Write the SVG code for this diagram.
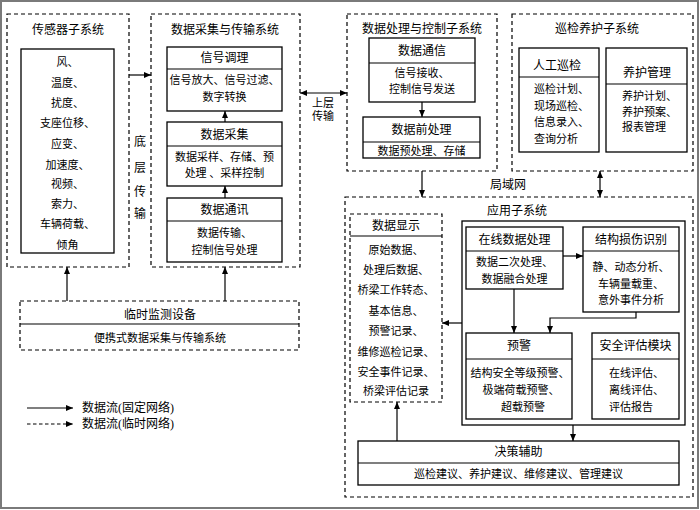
<svg xmlns="http://www.w3.org/2000/svg" width="700" height="510" viewBox="0 0 700 510">
<defs>
<style>
.b{fill:#fff;stroke:#000;stroke-width:1.3}
.n{fill:none;stroke:#000;stroke-width:1.3}
.d{fill:none;stroke:#000;stroke-width:1.2;stroke-dasharray:4 3}
.l{stroke:#000;stroke-width:1.2}
text{font-family:"Liberation Serif","Noto Sans CJK SC",serif;font-size:12px;text-anchor:middle;dominant-baseline:central;fill:#000}
.s{font-size:11px}
.st{text-anchor:start}
.c path{fill:none;stroke:#000;stroke-width:1.2;marker-end:url(#a)}
.c .bi{marker-start:url(#a)}
.c .dash{stroke-dasharray:3.5 2.5}
</style>
<marker id="a" viewBox="0 0 7 6" refX="7" refY="3" markerWidth="7" markerHeight="6" markerUnits="userSpaceOnUse" orient="auto-start-reverse">
<path d="M0,0 L7,3 L0,6 z" fill="#000"/>
</marker>
</defs>
<rect x="1" y="1" width="697" height="507" fill="#fff" stroke="#7a7a7a" stroke-width="2"/>

<g id="sensor">
<rect class="d" x="7" y="14" width="122" height="253"/>
<text x="68" y="30">传感器子系统</text>
<rect class="b" x="21" y="49" width="93" height="204"/>
<text class="s" x="67.5" y="62">风、</text>
<text class="s" x="67.5" y="83">温度、</text>
<text class="s" x="67.5" y="103">扰度、</text>
<text class="s" x="67.5" y="123">支座位移、</text>
<text class="s" x="67.5" y="144">应变、</text>
<text class="s" x="67.5" y="165">加速度、</text>
<text class="s" x="67.5" y="184">视频、</text>
<text class="s" x="67.5" y="204">索力、</text>
<text class="s" x="67.5" y="224">车辆荷载、</text>
<text class="s" x="67.5" y="245">倾角</text>
</g>

<g id="acquisition">
<rect class="d" x="151" y="14" width="149" height="253"/>
<text x="225" y="30">数据采集与传输系统</text>
<text x="140" y="142">底</text>
<text x="140" y="168">层</text>
<text x="140" y="192">传</text>
<text x="140" y="214">输</text>
</g>
<g id="signal">
<rect class="b" x="167" y="47" width="115" height="64"/>
<line class="l" x1="167" y1="69" x2="282" y2="69"/>
<text x="224.5" y="58">信号调理</text>
<text class="s" x="224.5" y="80">信号放大、信号过滤、</text>
<text class="s" x="224.5" y="97">数字转换</text>
</g>
<g id="collect">
<rect class="b" x="167" y="122" width="115" height="64"/>
<line class="l" x1="167" y1="146" x2="282" y2="146"/>
<text x="224.5" y="135">数据采集</text>
<text class="s" x="224.5" y="157">数据采样、存储、预</text>
<text class="s" x="224.5" y="173">处理 、采样控制</text>
</g>
<g id="comm">
<rect class="b" x="167" y="198" width="115" height="64"/>
<line class="l" x1="167" y1="221" x2="282" y2="221"/>
<text x="224.5" y="210">数据通讯</text>
<text class="s" x="224.5" y="233">数据传输、</text>
<text class="s" x="224.5" y="250">控制信号处理</text>
</g>

<g id="processing">
<rect class="d" x="347" y="14" width="150" height="157"/>
<text x="422" y="29">数据处理与控制子系统</text>
</g>
<g id="datacomm">
<rect class="b" x="369" y="38" width="106" height="64"/>
<line class="l" x1="369" y1="63" x2="475" y2="63"/>
<text x="422" y="51">数据通信</text>
<text class="s" x="422" y="73">信号接收、</text>
<text class="s" x="422" y="89">控制信号发送</text>
</g>
<g id="preproc">
<rect class="b" x="363" y="117" width="117" height="41"/>
<line class="l" x1="363" y1="142" x2="480" y2="142"/>
<text x="421.5" y="130">数据前处理</text>
<text class="s" x="421.5" y="151">数据预处理、存储</text>
</g>

<g id="patrol">
<rect class="d" x="512" y="14" width="181" height="157"/>
<text x="597" y="29">巡检养护子系统</text>
</g>
<g id="manual">
<rect class="b" x="519" y="48" width="80" height="104"/>
<line class="l" x1="519" y1="77" x2="599" y2="77"/>
<text x="557" y="66">人工巡检</text>
<text class="s st" x="534" y="89">巡检计划、</text>
<text class="s st" x="534" y="106">现场巡检、</text>
<text class="s st" x="534" y="122">信息录入、</text>
<text class="s st" x="534" y="139">查询分析</text>
</g>
<g id="maintain">
<rect class="b" x="606" y="48" width="81" height="104"/>
<line class="l" x1="606" y1="84" x2="687" y2="84"/>
<text x="647" y="73">养护管理</text>
<text class="s st" x="622" y="96">养护计划、</text>
<text class="s st" x="622" y="112">养护预案、</text>
<text class="s st" x="622" y="127">报表管理</text>
</g>

<g id="temp">
<rect class="d" x="20" y="301" width="279" height="49"/>
<line class="l" x1="20" y1="324" x2="299" y2="324"/>
<text x="160" y="315">临时监测设备</text>
<text class="s" x="160" y="338">便携式数据采集与传输系统</text>
</g>

<g id="app">
<rect class="d" x="345" y="197" width="348" height="300"/>
<text x="517" y="211">应用子系统</text>
<rect class="n" x="462" y="221" width="223" height="204"/>
</g>
<g id="display">
<rect class="d" x="350" y="214" width="92" height="188"/>
<line class="l" x1="350" y1="236" x2="442" y2="236"/>
<text x="396" y="226">数据显示</text>
<text class="s" x="396" y="250">原始数据、</text>
<text class="s" x="396" y="270">处理后数据、</text>
<text class="s" x="396" y="290">桥梁工作转态、</text>
<text class="s" x="396" y="311">基本信息、</text>
<text class="s" x="396" y="331">预警记录、</text>
<text class="s" x="396" y="352">维修巡检记录、</text>
<text class="s" x="396" y="372">安全事件记录、</text>
<text class="s" x="396" y="391">桥梁评估记录</text>
</g>
<g id="online">
<rect class="b" x="466" y="227" width="97" height="62"/>
<line class="l" x1="466" y1="251" x2="563" y2="251"/>
<text x="514.5" y="240">在线数据处理</text>
<text class="s" x="514.5" y="262">数据二次处理、</text>
<text class="s" x="514.5" y="279">数据融合处理</text>
</g>
<g id="damage">
<rect class="b" x="583" y="227" width="96" height="85"/>
<line class="l" x1="583" y1="251" x2="679" y2="251"/>
<text x="631" y="240">结构损伤识别</text>
<text class="s" x="631" y="267">静、动态分析、</text>
<text class="s" x="631" y="284">车辆量载重、</text>
<text class="s" x="631" y="300">意外事件分析</text>
</g>
<g id="warning">
<rect class="b" x="466" y="333" width="106" height="86"/>
<line class="l" x1="466" y1="359" x2="572" y2="359"/>
<text x="519" y="346">预警</text>
<text class="s" x="520" y="373">结构安全等级预警、</text>
<text class="s" x="521" y="390">极端荷载预警、</text>
<text class="s" x="523" y="407">超载预警</text>
</g>
<g id="safety">
<rect class="b" x="592" y="333" width="87" height="86"/>
<line class="l" x1="592" y1="359" x2="679" y2="359"/>
<text x="635.5" y="346">安全评估模块</text>
<text class="s st" x="609" y="373">在线评估、</text>
<text class="s st" x="609" y="390">离线评估、</text>
<text class="s st" x="609" y="407">评估报告</text>
</g>
<g id="decision">
<rect class="b" x="358" y="441" width="321" height="44"/>
<line class="l" x1="358" y1="463" x2="679" y2="463"/>
<text x="518.5" y="452">决策辅助</text>
<text class="s" x="518.5" y="474">巡检建议、养护建议、维修建议、管理建议</text>
</g>

<g id="legend">
<text class="st" x="82" y="408">数据流(固定网络)</text>
<text class="st" x="82" y="424">数据流(临时网络)</text>
</g>

<g id="labels">
<text class="s" x="323" y="103">上层</text>
<text class="s" x="323" y="116">传输</text>
<text x="508" y="185">局域网</text>
</g>

<g class="c" id="connectors">
<path d="M129,75 H151"/>
<path class="bi" d="M300,93 H347"/>
<path d="M225,198 V186"/>
<path d="M225,122 V111"/>
<path d="M67,301 V267"/>
<path d="M225,301 V267"/>
<path d="M422,102 V117"/>
<path d="M422,171 V197"/>
<path class="bi" d="M600,171 V197"/>
<path d="M563,256 H583"/>
<path d="M514,289 V333"/>
<path d="M636,312 V318 H550 V333"/>
<path d="M462,323 H442"/>
<path d="M573,425 V441"/>
<path d="M397,441 V402"/>
<path d="M27,408 H73"/>
<path class="dash" d="M27,424 H73"/>
</g>
</svg>
